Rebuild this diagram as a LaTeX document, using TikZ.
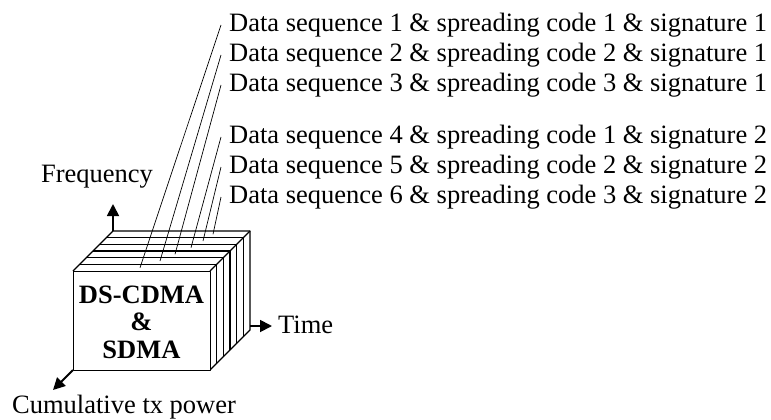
\documentclass[tikz,border=0pt]{standalone}
\usepackage{fontspec}
\setmainfont{Liberation Serif}
\usetikzlibrary{arrows.meta}
\begin{document}
\begin{tikzpicture}[x=1pt,y=-1pt,
  lbl/.style={font=\fontsize{26.5}{30}\selectfont, inner sep=0pt},
  edge/.style={line width=1.4pt, line join=round},
  slice/.style={line width=1.2pt},
  leader/.style={line width=0.7pt},
  axis/.style={line width=1.8pt, -{Triangle[length=12pt,width=12pt]}}]
\useasboundingbox (0,0) rectangle (771,420);
% cube body
\fill[white] (73,271) -- (113,231) -- (250,231) -- (250,330) -- (210,370) -- cycle;
\foreach \k in {1,...,5} {
  \pgfmathsetmacro\t{\k*40/6}
  \draw[slice] (73+\t,271-\t) -- (210+\t,271-\t) -- (210+\t,370-\t);
}
\draw[edge] (73,271) -- (113,231) -- (250,231) -- (250,330) -- (210,370);
\draw[edge] (210,271) -- (250,231);
\node[draw, edge, fill=white, minimum width=137pt, minimum height=99pt, inner sep=0pt, anchor=north west] (front) at (73,271) {};
\node[lbl, font=\fontsize{26.5}{27.5}\selectfont\bfseries, align=center] (name) at (141.5,322) {DS-CDMA\\\&\\SDMA};
% axes
\coordinate (fo) at (113,231);
\coordinate (to) at (250,326);
\coordinate (co) at (73,370);
\node[lbl] (freq) at (97,177) {Frequency};
\node[lbl, anchor=west] (time) at (278,325) {Time};
\node[lbl, anchor=west] (cum) at (12,407) {Cumulative tx power};
\draw[axis] (fo) -- (113,204);
\draw[axis] (to) -- (272,326);
\draw[axis] (co) -- (53,390);
% labels
\node[lbl, anchor=west] (d1) at (229,25) {Data sequence 1 \& spreading code 1 \& signature 1};
\node[lbl, anchor=west] (d2) at (229,55) {Data sequence 2 \& spreading code 2 \& signature 1};
\node[lbl, anchor=west] (d3) at (229,85) {Data sequence 3 \& spreading code 3 \& signature 1};
\node[lbl, anchor=west] (d4) at (229,137) {Data sequence 4 \& spreading code 1 \& signature 2};
\node[lbl, anchor=west] (d5) at (229,167) {Data sequence 5 \& spreading code 2 \& signature 2};
\node[lbl, anchor=west] (d6) at (229,197) {Data sequence 6 \& spreading code 3 \& signature 2};
% leader ends on the top face
\coordinate (s1) at (140,267.7);
\coordinate (s2) at (160,261);
\coordinate (s3) at (175,254.3);
\coordinate (s4) at (191,247.7);
\coordinate (s5) at (203,241);
\coordinate (s6) at (213,234.3);
\foreach \i in {1,...,6} {
  \draw[leader] (s\i) -- ([xshift=-8pt]d\i.west);
}
\end{tikzpicture}
\end{document}
